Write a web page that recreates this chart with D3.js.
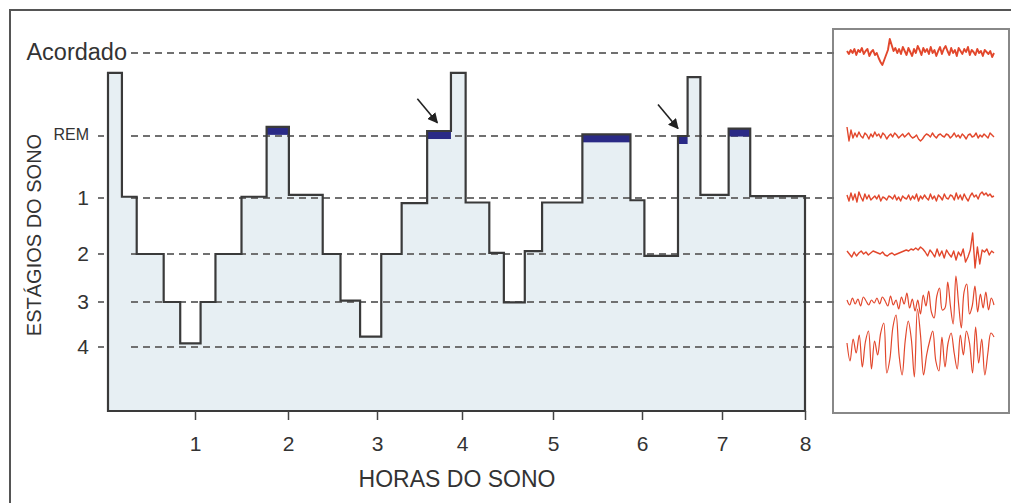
<!DOCTYPE html>
<html>
<head>
<meta charset="utf-8">
<script src="https://cdn.jsdelivr.net/npm/d3@7"></script>
<style>
body { margin: 0; background: #fff; }
svg text { font-family: "Liberation Sans", Arial, sans-serif; fill: #333; }
</style>
</head>
<body>
<div id="chart"></div>
<script>
// sleep stages, top to bottom (0 = awake ... 5 = stage 4)
var stageLabels = ["Acordado", "REM", "1", "2", "3", "4"]
var stageDepth = [0, 1, 2, 3, 4, 5]
var hourTicks = [1, 2, 3, 4, 5, 6, 7, 8]

// hypnogram: step starts (hours) and depth held until next step
var hypnoHours = [0, 0.16, 0.33, 0.64, 0.83, 1.06, 1.22, 1.50, 1.77, 2.01, 2.39, 2.59, 2.81, 3.05, 3.29, 3.59,
    3.87, 4.04, 4.30, 4.46, 4.69, 4.88, 5.33, 5.87, 6.03, 6.45, 6.57, 6.73, 7.08, 7.34, 8]
var hypnoDepth = [0.24, 1.98, 3.0, 4.0, 4.92, 4.0, 3.0, 1.98, 0.89, 1.95, 3.0, 3.97, 4.77, 3.0, 2.09, 0.94,
    0.24, 2.08, 2.98, 4.01, 2.95, 2.08, 0.98, 2.04, 3.04, 1.0, 0.29, 1.95, 0.91, 1.97, 1.97]

// arrows pointing at two short REM episodes (tip position)
var arrowHours = [3.71, 6.45]
var arrowDepth = [0.84, 0.91]

// EEG samples for each stage (arbitrary units)
var eegAwake = [2,-1,3,0,4,-2,3,1,5,-1,2,4,-3,1,3,-2,0,-5,-9,-12,-7,-2,3,14,8,2,5,0,4,-1,6,2,-2,5,1,-3,4,0,7,3,
    -2,5,1,4,-1,6,0,3,-3,2,6,-1,4,7,2,-2,5,0,3,-3,5,2,-1,4,1,6,-2,3,1,-2,4,0,2,-3,3,1,-1,2,-4,0]
var eegRem = [9,-5,6,-2,3,-1,4,0,-2,3,1,-3,2,-1,4,0,2,-2,3,1,-3,0,2,-1,3,1,-2,0,2,-1,1,3,0,-2,-1,1,-3,-5,-3,0,
    2,1,-1,3,0,-2,1,2,0,-1,2,1,-2,0,3,-1,1,-2,2,0,-3,1,2,-1,0,3,-2,1,-1,2,0,-2,3,1,-1]
var eegS1 = [3,-3,5,-2,4,-4,6,1,-3,4,-1,3,-2,0,2,-1,3,-3,1,0,-2,2,1,-1,3,-2,1,-3,2,0,-1,3,-2,2,-1,4,-3,2,-1,3,
    0,-2,4,-1,2,-3,3,1,-2,4,0,-1,3,2,-2,5,-1,3,-2,4,0,-3,2,5,1,3,-1,4,6,3,5,2,4,1,2]
var eegS2 = [3,0,-3,2,-2,1,3,0,2,-1,1,3,2,1,0,2,-1,-2,0,1,-1,0,1,2,3,4,3,5,4,6,4,7,5,2,-2,4,1,-3,5,-2,
    3,-4,4,0,-3,3,-6,2,-2,5,-8,-3,4,21,-14,7,-10,4,2,5,-1,3,1]
var eegS3 = [2,-3,4,-2,3,-4,5,1,-3,2,-1,4,-2,5,1,-4,6,-3,2,-7,5,-2,9,-6,3,-9,2,-12,7,-4,11,-10,-16,6,14,-8,-6,20,-4,-22,
    26,-2,-26,10,18,-12,-4,16,-10,8,-6,10,-8,4,-3]
var eegS4 = [4,-14,8,-6,12,-20,5,16,-22,6,-8,14,24,-26,-12,20,32,-8,-28,6,26,8,-30,38,12,-28,-8,6,16,-14,-24,10,-20,4,14,
    -6,-22,12,-8,16,4,-26,20,-16,8,-28,-6,14,10]
var eegTraces = [eegAwake, eegRem, eegS1, eegS2, eegS3, eegS4]

var W = 1011, H = 503
var fillColor = "#e7eff3", lineColor = "#3a3a3a", dashColor = "#707070", remColor = "#2a2a86", eegColor = "#e2472c"

var svg = d3.select("#chart").append("svg")
    .attr("width", W).attr("height", H)

// outer frame (runs off the right and bottom edges)
svg.append("rect")
    .attr("x", 10).attr("y", 10)
    .attr("width", W).attr("height", H)
    .style("fill", "#fff").style("stroke", "#555").style("stroke-width", 2)

var x = d3.scaleLinear().domain([0, 1, 2, 3, 4, 5, 6, 7, 8]).range([108, 195, 288, 377, 462, 553, 642, 722, 805])
var y = d3.scaleLinear().domain([0, 1, 2, 3, 4, 5, 6]).range([53, 136, 198, 254, 302, 347, 411])

var hypno = hypnoHours.map(function(h, i){ return {h: h, d: hypnoDepth[i]} })

var area = d3.area()
    .x(function(d){ return x(d.h) })
    .y0(y(6))
    .y1(function(d){ return y(d.d) })
    .curve(d3.curveStepAfter)

svg.append("path")
    .attr("d", area(hypno))
    .style("fill", fillColor).style("stroke", "none")

// EEG panel
var panel = {x0: 833, y0: 29, x1: 1009, y1: 413}
svg.append("rect")
    .attr("x", panel.x0).attr("y", panel.y0)
    .attr("width", panel.x1 - panel.x0).attr("height", panel.y1 - panel.y0)
    .style("fill", "#fff").style("stroke", "#888").style("stroke-width", 2)

// dashed stage lines
svg.append("g").selectAll("line")
    .data(stageDepth)
    .join("line")
    .attr("x1", 131).attr("x2", panel.x0 + 4)
    .attr("y1", function(d){ return y(d) }).attr("y2", function(d){ return y(d) })
    .style("stroke", dashColor).style("stroke-width", 2)
    .style("stroke-dasharray", "7,5")

// REM bars (dark band on top of each REM step)
var rem = []
for (var i = 0; i < hypno.length - 1; i++) {
    if (hypno[i].d > 0.5 && hypno[i].d < 1.5) rem.push({h0: hypno[i].h, h1: hypno[i + 1].h, d: hypno[i].d})
}
svg.append("g").selectAll("rect")
    .data(rem)
    .join("rect")
    .attr("x", function(d){ return x(d.h0) })
    .attr("y", function(d){ return y(d.d) })
    .attr("width", function(d){ return x(d.h1) - x(d.h0) })
    .attr("height", 8)
    .style("fill", remColor)

// hypnogram outline
svg.append("path")
    .attr("d", area(hypno))
    .style("fill", "none").style("stroke", lineColor).style("stroke-width", 2.2)
    .style("stroke-linejoin", "miter")

// x axis
var xAxis = svg.append("g")
    .attr("transform", "translate(0," + y(6) + ")")
    .call(d3.axisBottom(x).tickValues(hourTicks).tickSize(9).tickPadding(16).tickFormat(d3.format("d")))
xAxis.select(".domain").remove()
xAxis.selectAll("line").style("stroke", "#444").style("stroke-width", 1.5)
xAxis.selectAll("text").style("font-size", "21px").style("fill", "#333")

svg.append("text")
    .attr("x", 457).attr("y", 487)
    .attr("text-anchor", "middle")
    .style("font-size", "23px")
    .text("HORAS DO SONO")

// y axis labels
var yLab = svg.append("g")
yLab.selectAll("text")
    .data(stageDepth)
    .join("text")
    .attr("x", function(d){ return d === 0 ? 127 : 89 })
    .attr("y", function(d){ return y(d) + (d === 1 ? 4 : 7) })
    .attr("text-anchor", "end")
    .style("font-size", function(d){ return d === 0 ? "23.5px" : d === 1 ? "16px" : "21px" })
    .text(function(d){ return stageLabels[d] })
yLab.selectAll("line")
    .data(stageDepth.slice(1))
    .join("line")
    .attr("x1", 98).attr("x2", 104)
    .attr("y1", function(d){ return y(d) }).attr("y2", function(d){ return y(d) })
    .style("stroke", "#444").style("stroke-width", 1.5)

svg.append("text")
    .attr("transform", "translate(41,235) rotate(-90)")
    .attr("text-anchor", "middle")
    .style("font-size", "20px")
    .text("ESTÁGIOS DO SONO")

// arrows
svg.append("defs").append("marker")
    .attr("id", "head")
    .attr("viewBox", "0 0 10 10").attr("refX", 9).attr("refY", 5)
    .attr("markerWidth", 6.5).attr("markerHeight", 6.5)
    .attr("orient", "auto")
    .append("path").attr("d", "M0,0L10,5L0,10z").style("fill", "#222")
svg.append("g").selectAll("line")
    .data(arrowHours)
    .join("line")
    .attr("x1", function(d){ return x(d) - 20 })
    .attr("y1", function(d, i){ return y(arrowDepth[i]) - 24 })
    .attr("x2", function(d){ return x(d) })
    .attr("y2", function(d, i){ return y(arrowDepth[i]) })
    .style("stroke", "#222").style("stroke-width", 1.6)
    .attr("marker-end", "url(#head)")

// EEG traces
var amp = d3.scaleLinear().domain([-10, 10]).range([10, -10])
eegTraces.forEach(function(trace, k){
    var ex = d3.scaleLinear().domain([0, trace.length - 1]).range([847, 994])
    var line = d3.line()
        .x(function(d, i){ return ex(i) })
        .y(function(d){ return y(stageDepth[k]) + amp(d) })
        .curve(k >= 4 ? d3.curveCatmullRom : d3.curveLinear)
    svg.append("path")
        .attr("d", line(trace))
        .style("fill", "none")
        .style("stroke", eegColor)
        .style("stroke-width", k === 0 ? 1.9 : k < 4 ? 1.4 : 1.2)
        .style("stroke-linejoin", "round")
})
</script>
</body>
</html>
